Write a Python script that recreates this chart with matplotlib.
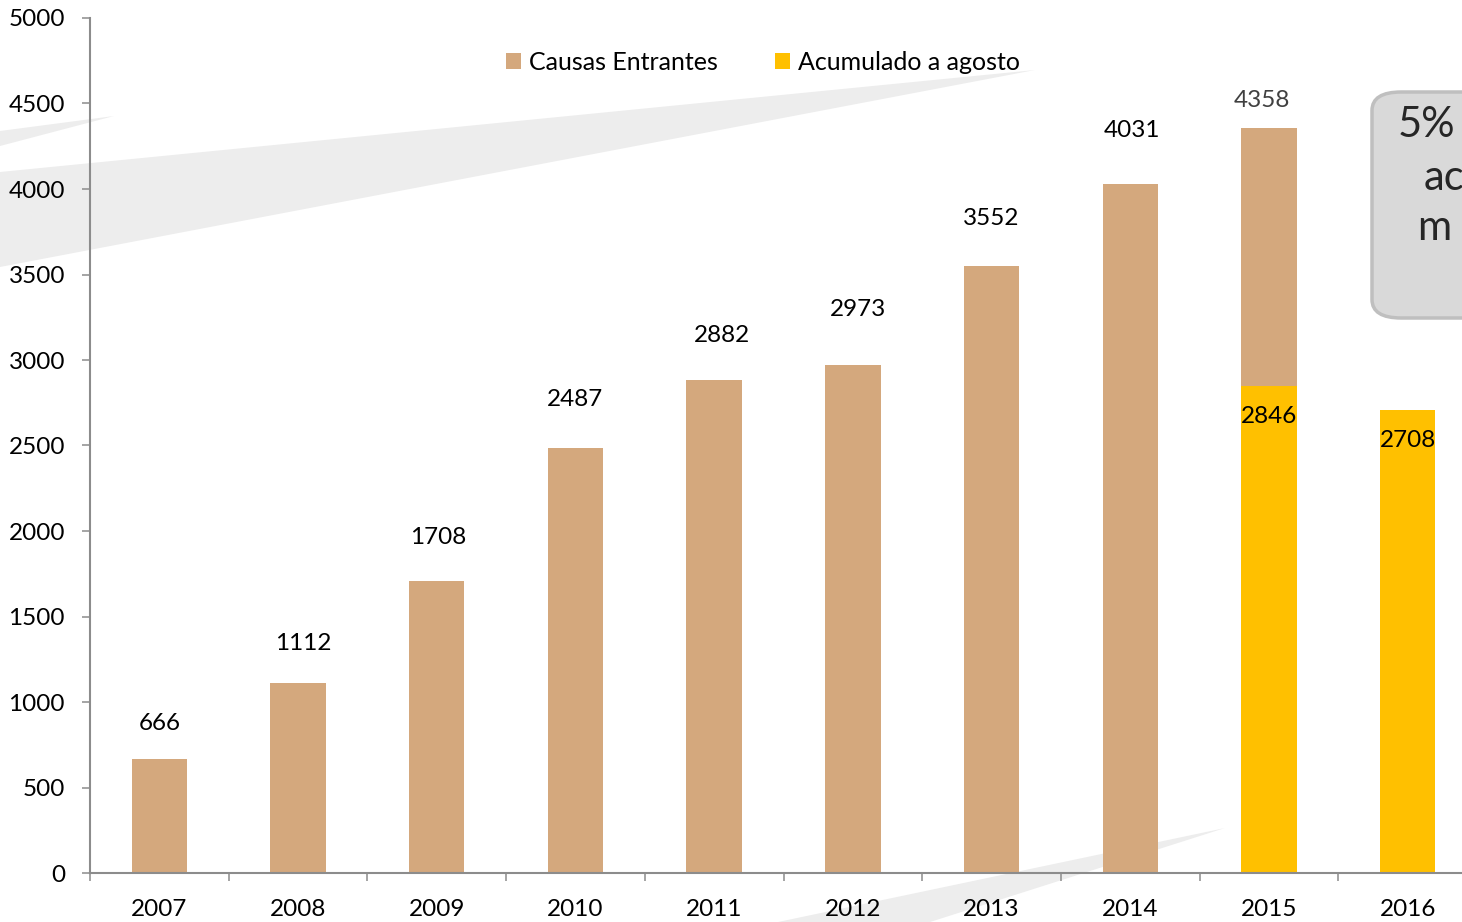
import matplotlib.pyplot as plt
from matplotlib.patches import Patch, Polygon, FancyBboxPatch

# datos
anios = ['2007', '2008', '2009', '2010', '2011', '2012', '2013', '2014', '2015', '2016']
causas = [666, 1112, 1708, 2487, 2882, 2973, 3552, 4031, 4358]
anios_acum = ['2015', '2016']
acumulado = [2846, 2708]

# desplazamiento de etiquetas (puntos)
lab_dx = [0, 4, 1, 0, 6, 4, 0, 1, -5]
lab_dy = [26, 28, 31, 35, 32, 40, 34, 38, 20]

tan = '#D4A87D'
amarillo = '#FFC000'
gris_eje = '#8C8C8C'
plt.rcParams['font.family'] = ['Lato', 'DejaVu Sans']

W, H = 1462, 922
fig = plt.figure(figsize=(W / 100, H / 100), dpi=100)


def fpt(x, y):
    return (x / W, 1 - y / H)


# fondo decorativo
fondo = '#EDEDED'
for pts in [[(0, 131), (114, 116), (0, 146)],
            [(0, 172), (1035, 70), (0, 267)],
            [(740, 930), (1225, 828), (905, 930)]]:
    fig.patches.append(Polygon([fpt(*p) for p in pts], closed=True,
                               transform=fig.transFigure, facecolor=fondo,
                               edgecolor='none', zorder=-1))

ax = fig.add_axes([90 / W, 49 / H, 1387 / W, 855 / H])
ax.set_facecolor('none')
ax.set_zorder(1)

x = list(range(len(anios)))
ax.bar(x[:len(causas)], causas, width=0.4, color=tan, zorder=2)
x_acum = [anios.index(a) for a in anios_acum]
ax.bar(x_acum, acumulado, width=0.4, color=amarillo, zorder=3)

for i, v in enumerate(causas):
    col = '#404040' if anios[i] == '2015' else 'black'
    ax.annotate(str(v), (x[i], v), xytext=(lab_dx[i], lab_dy[i]),
                textcoords='offset points', ha='center', va='center',
                fontsize=17.5, color=col, zorder=5)
for xi, v in zip(x_acum, acumulado):
    ax.annotate(str(v), (xi, v), xytext=(0, -22), textcoords='offset points',
                ha='center', va='center', fontsize=17.5, color='black', zorder=5)

ax.set_xlim(-0.5, len(anios) - 0.5)
ax.set_ylim(0, 5000)
ax.set_yticks(range(0, 5001, 500))
ax.set_xticks(x)
ax.set_xticklabels(anios)
ax.set_xticks([i - 0.5 for i in range(len(anios) + 1)], minor=True)

for s in ['top', 'right']:
    ax.spines[s].set_visible(False)
for s in ['left', 'bottom']:
    ax.spines[s].set_color(gris_eje)
    ax.spines[s].set_linewidth(1.5)
    ax.spines[s].set_zorder(4)

ax.tick_params(axis='y', length=6, width=1.1, color=gris_eje, pad=12,
               labelsize=17.5)
ax.tick_params(axis='x', which='major', length=0, pad=19, labelsize=17.5)
ax.tick_params(axis='x', which='minor', length=6, width=1.1, color=gris_eje)

# leyenda
handles = [Patch(facecolor=tan, label='Causas Entrantes'),
           Patch(facecolor=amarillo, label='Acumulado a agosto')]
fig.legend(handles=handles, loc='center', bbox_to_anchor=fpt(763, 62), ncol=2,
           frameon=False, fontsize=18, handlelength=0.6, handleheight=0.6,
           handletextpad=0.3, columnspacing=2.3, borderpad=0)

# recuadro lateral
x0, y0 = fpt(1372, 318)
caja = FancyBboxPatch((x0, y0), 200 / W, 226 / H,
                      boxstyle='round,pad=0,rounding_size=0.02',
                      transform=fig.transFigure, facecolor='#D9D9D9',
                      edgecolor='#BFBFBF', linewidth=2.5, zorder=6)
fig.patches.append(caja)
for txt, px, py in [('5%', 1398, 125), ('ac', 1424, 178), ('m', 1417, 228)]:
    fig.text(*fpt(px, py), txt, ha='left', va='center', fontsize=30,
             color='#262626', zorder=7)

fig.savefig('out.png', dpi=100)
